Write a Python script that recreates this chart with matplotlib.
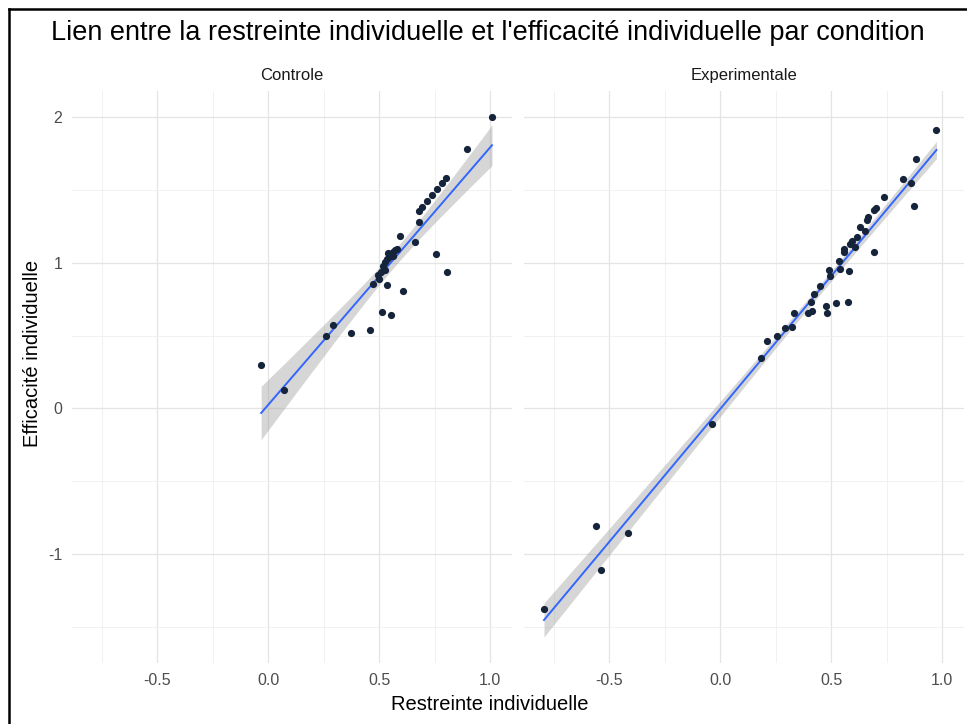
import numpy as np
import matplotlib.pyplot as plt
from matplotlib.lines import Line2D

plt.rcParams['font.family'] = ['Liberation Sans', 'DejaVu Sans']

# Controle group: restreinte (x) vs efficacite (y)
ctrl_x = [1.008, 0.894, 0.800, 0.781, 0.760, 0.737, 0.715, 0.692, 0.677, 0.677,
          0.593, 0.661, 0.754, 0.807, 0.572, 0.562, 0.552, 0.545, 0.535, 0.525,
          0.580, 0.560, 0.540, 0.515, 0.507, 0.495, 0.525, 0.500, 0.473, 0.533,
          0.608, 0.512, 0.552, 0.372, 0.459, 0.290, 0.259, -0.032, 0.071]
ctrl_y = [2.000, 1.777, 1.584, 1.545, 1.506, 1.465, 1.423, 1.385, 1.355, 1.277,
          1.185, 1.139, 1.059, 0.937, 1.085, 1.070, 1.055, 1.040, 1.025, 1.005,
          1.095, 1.045, 1.065, 0.975, 0.937, 0.915, 0.950, 0.890, 0.855, 0.845,
          0.804, 0.662, 0.639, 0.517, 0.540, 0.570, 0.497, 0.295, 0.129]

# Experimentale group
exp_x = [0.974, 0.883, 0.824, 0.861, 0.871, 0.737, 0.702, 0.693, 0.664, 0.662,
         0.631, 0.654, 0.616, 0.594, 0.586, 0.609, 0.559, 0.556, 0.691, 0.536,
         0.541, 0.581, 0.488, 0.495, 0.450, 0.423, 0.408, 0.476, 0.523, 0.576,
         0.413, 0.480, 0.397, 0.333, 0.325, 0.292, 0.257, 0.212, 0.183, -0.038,
         -0.417, -0.560, -0.538, -0.794]
exp_y = [1.908, 1.715, 1.573, 1.550, 1.387, 1.449, 1.378, 1.359, 1.313, 1.290,
         1.244, 1.217, 1.178, 1.151, 1.125, 1.109, 1.093, 1.075, 1.070, 1.010,
         0.960, 0.946, 0.948, 0.907, 0.838, 0.788, 0.731, 0.704, 0.726, 0.733,
         0.666, 0.655, 0.655, 0.655, 0.556, 0.552, 0.497, 0.460, 0.347, -0.107,
         -0.855, -0.810, -1.109, -1.380]

conditions = ['Controle', 'Experimentale']
x_ticks = [-0.5, 0.0, 0.5, 1.0]
y_ticks = [-1, 0, 1, 2]

W, H = 967, 724


def t_crit(df, z=1.959964):
    # Cornish-Fisher expansion of the 97.5% Student t quantile
    return (z + (z**3 + z) / (4 * df)
            + (5 * z**5 + 16 * z**3 + 3 * z) / (96 * df**2)
            + (3 * z**7 + 19 * z**5 + 17 * z**3 - 15 * z) / (384 * df**3))


def lm_band(x, y, n_pts=80):
    x = np.asarray(x)
    y = np.asarray(y)
    n = len(x)
    slope, icpt = np.polyfit(x, y, 1)
    resid = y - (icpt + slope * x)
    s = np.sqrt(np.sum(resid**2) / (n - 2))
    sxx = np.sum((x - x.mean())**2)
    xs = np.linspace(x.min(), x.max(), n_pts)
    fit = icpt + slope * xs
    se = s * np.sqrt(1 / n + (xs - x.mean())**2 / sxx)
    t = t_crit(n - 2)
    return xs, fit, fit - t * se, fit + t * se


def expand(lo, hi, mult=0.05):
    span = hi - lo
    return lo - mult * span, hi + mult * span


groups = [(ctrl_x, ctrl_y), (exp_x, exp_y)]
fits = [lm_band(gx, gy) for gx, gy in groups]

all_x = np.concatenate([ctrl_x, exp_x])
xlim = expand(all_x.min(), all_x.max())
ylo = min(min(ctrl_y), min(exp_y), min(f[2].min() for f in fits))
yhi = max(max(ctrl_y), max(exp_y), max(f[3].max() for f in fits))
ylim = expand(ylo, yhi)

fig = plt.figure(figsize=(W / 100, H / 100), dpi=100)

panel_left = [72, 524]
panel_w = 440
panel_top, panel_bot = 91, 663

grid_major = '#e4e4e4'
grid_minor = '#efefef'

axes = []
for i, name in enumerate(conditions):
    ax = fig.add_axes([panel_left[i] / W, 1 - panel_bot / H,
                       panel_w / W, (panel_bot - panel_top) / H])
    gx, gy = groups[i]
    xs, fit, lo, hi = fits[i]

    ax.fill_between(xs, lo, hi, color='#999999', alpha=0.4, linewidth=0, zorder=2)
    ax.plot(xs, fit, color='#3366FF', linewidth=1.4, zorder=3)
    ax.scatter(gx, gy, s=27, color='#15243a', linewidths=0, zorder=4)

    ax.set_xlim(xlim)
    ax.set_ylim(ylim)
    ax.set_xticks(x_ticks)
    ax.set_xticklabels([f'{v:.1f}' for v in x_ticks])
    ax.set_yticks(y_ticks)
    ax.set_xticks([-0.75, -0.25, 0.25, 0.75], minor=True)
    ax.set_yticks([-1.5, -0.5, 0.5, 1.5], minor=True)
    ax.grid(which='major', color=grid_major, linewidth=0.9, zorder=0)
    ax.grid(which='minor', color=grid_minor, linewidth=0.6, zorder=0)
    ax.set_axisbelow(True)
    for sp in ax.spines.values():
        sp.set_visible(False)
    ax.tick_params(which='both', length=0, labelsize=11.5, colors='#4d4d4d', pad=7)
    if i == 0:
        ax.set_yticklabels([str(v) for v in y_ticks])
    else:
        ax.set_yticklabels([])
    ax.set_title(name, fontsize=12, color='#1a1a1a', pad=8)
    axes.append(ax)

fig.text(488 / W, 1 - 33 / H, "Lien entre la restreinte individuelle et l'efficacité individuelle par condition",
         ha='center', va='center', fontsize=19.5, color='black')
fig.text(490 / W, 1 - 705 / H, 'Restreinte individuelle',
         ha='center', va='center', fontsize=14.5, color='black')
fig.text(33 / W, 1 - 353 / H, 'Efficacité individuelle',
         ha='center', va='center', rotation=90, fontsize=14.5, color='black')

# thin frame along the top and left edges
fig.add_artist(Line2D([9 / W, 9 / W], [0, 1 - 9 / H], transform=fig.transFigure,
                      color='black', linewidth=1.8))
fig.add_artist(Line2D([9 / W, 1], [1 - 9 / H, 1 - 9 / H], transform=fig.transFigure,
                      color='black', linewidth=1.8))

fig.savefig('out.png', dpi=100)
